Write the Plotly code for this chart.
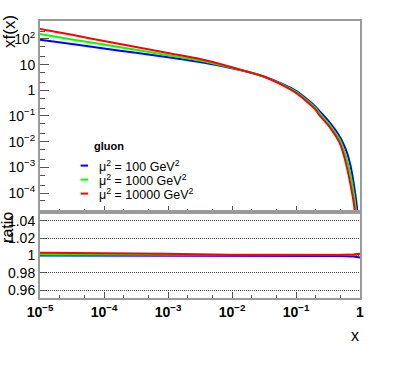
import plotly.graph_objects as go

X = [1e-5, 3.16e-5, 1e-4, 3.16e-4, 1e-3, 3.16e-3, 0.01, 0.0178, 0.0316, 0.0562,
     0.1, 0.158, 0.2, 0.237, 0.316, 0.398, 0.447, 0.501, 0.562, 0.631,
     0.708, 0.794, 0.891, 0.955]
XF_100 = [93.3, 63.1, 42.7, 28.8, 19.5, 12.6, 7.24, 5.13, 3.39, 1.95,
          0.955, 0.398, 0.234, 0.148, 0.0676, 0.0324, 0.0214, 0.0132, 7.24e-3, 3.55e-3,
          1.20e-3, 2.51e-4, 3.16e-5, 3.98e-6]
XF_1000 = [155, 95.5, 60.3, 38.0, 23.4, 14.5, 7.59, 5.25, 3.43, 1.86,
           0.871, 0.355, 0.209, 0.123, 0.0550, 0.0251, 0.0166, 9.77e-3, 4.47e-3, 1.78e-3,
           5.25e-4, 1.07e-4, 1.12e-5, 1.41e-6]
XF_10000 = [245, 145, 83.2, 49.0, 28.2, 16.6, 7.94, 5.25, 3.47, 1.78,
            0.794, 0.316, 0.182, 0.100, 0.0447, 0.0200, 0.0126, 7.08e-3, 2.82e-3, 8.91e-4,
            2.24e-4, 4.47e-5, 3.98e-6, 5.01e-7]

RATIO_X = [1e-5, 1e-4, 1e-3, 1e-2, 0.1, 0.5, 0.8, 0.95, 1.0]
RATIO_100 = [1.0000, 1.0000, 1.0000, 1.0000, 0.9998, 0.9993, 0.9988, 0.9975, 0.9975]
RATIO_1000 = [1.0012, 1.0011, 1.0008, 1.0003, 1.0002, 1.0003, 1.0008, 1.0015, 1.0015]
RATIO_10000 = [1.0030, 1.0027, 1.0018, 1.0005, 1.0003, 1.0005, 1.0012, 1.0020, 1.0020]

LABELS = ["μ<sup>2</sup> = 100 GeV<sup>2</sup>",
          "μ<sup>2</sup> = 1000 GeV<sup>2</sup>",
          "μ<sup>2</sup> = 10000 GeV<sup>2</sup>"]
COLORS = ["#0000ff", "#00ff00", "#ff0000"]

Y_TICKS = [1e-4, 1e-3, 1e-2, 1e-1, 1, 10, 100]
Y_TICKTEXT = ["10<sup>−4</sup>", "10<sup>−3</sup>", "10<sup>−2</sup>", "10<sup>−1</sup>",
              "1", "10", "10<sup>2</sup>"]
X_TICKS = [1e-5, 1e-4, 1e-3, 1e-2, 1e-1, 1]
X_TICKTEXT = ["<b>10<sup>−5</sup></b>", "<b>10<sup>−4</sup></b>", "<b>10<sup>−3</sup></b>",
              "<b>10<sup>−2</sup></b>", "<b>10<sup>−1</sup></b>", "<b>1</b>"]
R_TICKS = [0.96, 0.98, 1.0, 1.02, 1.04]
R_TICKTEXT = ["0.96", "0.98", "1", "1.02", "1.04"]

FRAME = "#9a9a9a"
TICK = "#555555"
FONT = "Liberation Sans"

fig = go.Figure()
for ys, color in zip([XF_100, XF_1000, XF_10000], COLORS):
    fig.add_trace(go.Scatter(x=X, y=ys, mode="lines",
                             line=dict(color=color, width=2, shape="spline", smoothing=0.6),
                             xaxis="x", yaxis="y", showlegend=False))
for ys, color in zip([RATIO_100, RATIO_1000, RATIO_10000], COLORS):
    fig.add_trace(go.Scatter(x=RATIO_X, y=ys, mode="lines", line=dict(color=color, width=2),
                             xaxis="x2", yaxis="y2", showlegend=False))

split = 86 / 277
common_x = dict(type="log", range=[-5, 0], showline=True, linecolor=FRAME, linewidth=2,
                mirror=True, ticks="inside", ticklen=6, tickcolor=TICK, showgrid=False,
                zeroline=False, tickvals=X_TICKS, automargin=False,
                minor=dict(ticks="inside", ticklen=3, tickcolor=TICK, showgrid=False))
fig.update_layout(
    width=400, height=386,
    margin=dict(l=40, r=40, t=21, b=88, autoexpand=False),
    plot_bgcolor="white", paper_bgcolor="white",
    font=dict(family=FONT, color="black", size=14),
    xaxis=dict(common_x, anchor="y", domain=[0, 1], showticklabels=False),
    yaxis=dict(type="log", domain=[split, 1], range=[-4.74, 2.70], showline=True,
               linecolor=FRAME, linewidth=2, mirror=True, ticks="inside", ticklen=9,
               tickcolor=TICK, showgrid=False, zeroline=False, tickvals=Y_TICKS,
               ticktext=Y_TICKTEXT, tickfont=dict(size=14), ticklabelstandoff=0,
               automargin=False,
               minor=dict(ticks="inside", ticklen=5, tickcolor=TICK, showgrid=False)),
    xaxis2=dict(common_x, anchor="y2", domain=[0, 1], ticktext=X_TICKTEXT,
                tickfont=dict(size=14), ticklabelstandoff=0),
    yaxis2=dict(domain=[0, split], range=[0.951, 1.05], showline=True, linecolor=FRAME,
                linewidth=2, mirror=True, ticks="inside", ticklen=6, tickcolor=TICK,
                tickvals=R_TICKS, ticktext=R_TICKTEXT, tickfont=dict(size=14),
                ticklabelstandoff=0, showgrid=True, gridcolor="#444444", griddash="1px,1px",
                gridwidth=1, zeroline=False, automargin=False),
)

fig.add_annotation(text="xf(x)", xref="paper", yref="paper", x=-0.094, y=0.964,
                   xanchor="center", yanchor="middle",
                   textangle=-90, showarrow=False, font=dict(size=17))
fig.add_annotation(text="ratio", xref="paper", yref="paper", x=-0.1, y=0.253,
                   xanchor="center", yanchor="middle",
                   textangle=-90, showarrow=False, font=dict(size=16))
fig.add_annotation(text="x", xref="paper", yref="paper", x=0.984, y=-0.137,
                   xanchor="center", yanchor="middle", showarrow=False, font=dict(size=16))

# legend drawn by hand, ROOT style
fig.add_annotation(text="<b>gluon</b>", xref="paper", yref="paper", x=0.162, y=0.55,
                   xanchor="left", showarrow=False, font=dict(size=11))
for i, (label, color) in enumerate(zip(LABELS, COLORS)):
    ypos = 0.478 - i * 0.0505
    fig.add_shape(type="line", xref="paper", yref="paper", x0=0.127, x1=0.15,
                  y0=ypos, y1=ypos, line=dict(color=color, width=2))
    fig.add_annotation(text=label, xref="paper", yref="paper", x=0.178, y=ypos,
                       xanchor="left", showarrow=False, font=dict(size=12.5))

# drop the default 8px body margin so the figure sits at the window corner
fig.write_html("out.html", config={"displayModeBar": False},
               post_script="document.body.style.margin = '0';")
